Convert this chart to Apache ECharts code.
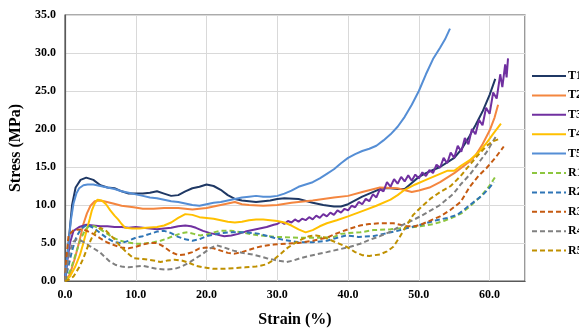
<!DOCTYPE html>
<html><head><meta charset="utf-8">
<script src="https://cdn.jsdelivr.net/npm/echarts@6/dist/echarts.min.js"></script>
<style>html,body{margin:0;padding:0;background:#fff}#c{width:579px;height:333px}</style>
</head><body><div id="c"></div>
<script>
// Strain (%) / Stress (MPa) pairs
const T1 = [[0,0],[0.5,5],[1,10],[1.5,12.3],[2.2,13.3],[3,13.6],[4,13.3],[5,12.6],[6,12.3],[7,12.2],[8,11.8],[9,11.5],[10,11.5],[11,11.5],[12,11.6],[13,11.8],[14,11.5],[15,11.2],[16,11.3],[17,11.8],[18,12.2],[19,12.4],[20,12.7],[21,12.5],[22,12.0],[23,11.3],[24,10.8],[25,10.6],[26,10.5],[27,10.4],[28,10.5],[29,10.6],[30,10.8],[31,10.9],[33,10.8],[35,10.3],[36.5,10.0],[38,9.8],[39,9.8],[40,10.1],[41,10.6],[42,11.1],[43,11.5],[44,11.9],[45,12.2],[46,12.2],[47,12.1],[48,12.1],[49,12.9],[50,13.7],[51,14.2],[52,14.6],[53,15.0],[54,15.6],[55,16.2],[56,17.3],[57,18.8],[58,20.5],[59,22.3],[60,24.5],[60.8,26.6]];
const T2 = [[0,0],[0.7,0.9],[1.4,3],[2.1,5.5],[2.6,7.5],[3.1,8.9],[3.6,9.9],[4.2,10.5],[4.8,10.6],[5.5,10.5],[6.8,10.2],[8,9.9],[9.7,9.7],[11,9.5],[12.5,9.5],[14,9.6],[16,9.6],[18,9.4],[20,9.6],[22,10.0],[24,10.4],[25,10.1],[26,10.0],[28,9.9],[30,10.0],[32,10.3],[35,10.6],[38,11.0],[40,11.2],[42,11.7],[44.5,12.3],[47,12.2],[49,11.7],[50,11.9],[51.5,12.3],[53,13.0],[55,14.2],[57,15.6],[58,16.5],[59,18.0],[60,19.8],[60.7,21.5],[61.2,23.2]];
const T3 = [[0,0],[0.3,2.5],[0.7,5],[1.2,6.6],[2,7.1],[3,7.4],[4,7.3],[5,7.2],[6,7.2],[7,7.1],[8,7.1],[9,7.0],[10,7.1],[11,7.0],[12,6.9],[13,6.8],[14,6.9],[15,7.0],[16,7.2],[17,7.3],[17.8,7.2],[18.5,7.0],[19.5,6.6],[20.5,6.3],[21.5,6.1],[22.5,5.9],[23.5,6.0],[24.5,6.2],[25.5,6.5],[26.5,6.7],[27.5,6.9],[28.5,7.1],[29.5,7.4],[30,7.5],[30.5,7.8],[31,7.5],[31.5,7.9],[32,7.7],[32.5,8.1],[33,7.8],[33.5,8.2],[34,8.0],[34.5,8.4],[35,8.1],[35.5,8.6],[36,8.3],[36.5,8.8],[37,8.5],[37.5,9.0],[38,8.7],[38.5,9.3],[39,9.0],[39.5,9.5],[40,9.3],[40.5,9.9],[41,9.7],[41.5,10.4],[42,10.1],[42.5,10.8],[43,10.5],[43.5,11.4],[44,11.0],[44.5,12.1],[45,11.8],[45.5,13.0],[46,12.4],[46.5,13.4],[47,12.8],[47.5,13.7],[48,13.1],[48.5,13.9],[49,13.2],[49.5,14.0],[50,13.5],[50.5,14.3],[51,13.8],[51.5,14.6],[52,14.2],[52.5,15.3],[53,14.9],[53.5,16.2],[54,15.5],[54.5,16.9],[55,16.2],[55.5,17.8],[56,17.0],[56.5,18.8],[57,18.0],[57.5,20.0],[58,19.3],[58.5,21.2],[59,20.5],[59.5,22.8],[60,22.0],[60.5,24.8],[61,24.0],[61.5,27.2],[61.8,25.5],[62.2,28.5],[62.4,26.8],[62.6,29.3]];
const T4 = [[0,0],[0.7,0.6],[1.4,1.8],[2.1,3.4],[2.6,5],[3.1,6.8],[3.5,8.2],[3.8,9.3],[4.2,10.2],[4.6,10.7],[5.2,10.6],[5.8,10.1],[6.4,9.3],[7,8.6],[7.5,8.1],[8,7.5],[8.5,7.0],[9.5,6.9],[10.5,6.9],[11.5,7.0],[13,7.1],[14,7.3],[15,7.7],[16,8.3],[17,8.8],[18,8.7],[19,8.4],[20,8.3],[21,8.2],[22,8.0],[23,7.8],[24,7.7],[25,7.8],[26,8.0],[27,8.1],[28,8.1],[29,8.0],[30,7.9],[31,7.7],[32,7.3],[33,6.8],[34,6.4],[35,6.7],[36,7.2],[37,7.6],[38.4,8.0],[40,8.5],[42,9.2],[44,9.9],[46,10.7],[47,11.3],[48,12.0],[49.5,12.7],[51,13.3],[52.5,13.9],[54,14.5],[55,14.5],[56,15.2],[57.2,15.9],[58.5,17.0],[59.6,18.2],[60.6,19.5],[61.6,20.7]];
const T5 = [[0,0],[0.2,2],[0.5,4.7],[0.8,7.8],[1.2,10.2],[1.6,11.5],[2,12.2],[2.6,12.6],[3.2,12.7],[4,12.7],[5,12.5],[6,12.3],[7,12.1],[8,11.8],[9,11.6],[10,11.4],[11,11.2],[12,11.0],[13,10.9],[14,10.7],[15,10.5],[16,10.4],[17,10.2],[18,10.0],[19,9.9],[20,10.1],[21,10.3],[22,10.4],[23,10.6],[24,10.8],[25,11.0],[26,11.1],[27,11.2],[28,11.1],[29,11.1],[30,11.2],[31,11.5],[32,11.9],[33,12.4],[34,12.7],[35,13.0],[36,13.5],[37,14.1],[38,14.7],[39,15.5],[40,16.2],[41,16.7],[42,17.1],[43,17.4],[44,17.8],[45,18.5],[46,19.3],[47,20.3],[48,21.6],[49,23.2],[50,25.0],[51,27.2],[52,29.2],[53,30.7],[53.7,31.8],[54.4,33.2]];
const R1 = [[0,0],[0.8,1.5],[1.5,3.5],[2.2,5.5],[2.9,6.8],[3.5,7.3],[4.2,7.2],[5,6.8],[6,6.2],[6.8,5.7],[7.8,5.3],[8.7,5.1],[10,4.9],[11,4.9],[12.5,5.1],[13.5,5.3],[14.5,5.6],[15.5,6.0],[16.5,6.3],[17.3,6.4],[18.2,6.2],[19.1,6.0],[20,6.1],[21,6.4],[22,6.6],[23.5,6.6],[24.7,6.45],[26,6.2],[27.5,6.0],[28.5,5.9],[30,5.8],[33,5.7],[36,5.7],[38,5.8],[39,6.2],[40,6.3],[41.7,6.4],[43.6,6.7],[46,6.8],[48.3,7.0],[50.2,7.2],[52.1,7.5],[53.5,7.9],[54.9,8.4],[56,8.9],[57.2,9.8],[58.6,11.0],[59.8,12.3],[60.8,13.7]];
const R2 = [[0,0],[0.5,2],[1,4],[1.6,5.8],[2.3,6.9],[3.1,7.4],[4,7.0],[5,6.3],[6,5.6],[7,5.1],[8,5.0],[9,5.3],[10,5.7],[11,5.9],[12,6.2],[13,6.5],[14,6.6],[15,6.3],[16,5.8],[17,5.5],[18,5.3],[19,5.5],[20,5.9],[21,6.1],[22,6.3],[23.5,6.4],[25.5,6.4],[27.5,6.2],[29.5,5.7],[31,5.4],[33,5.1],[35,5.1],[37,5.3],[38.5,5.7],[39.8,6.0],[41.5,5.8],[43.5,5.9],[45,6.2],[47,6.6],[48.5,7.0],[50.2,7.4],[52.5,8.0],[54,8.3],[55.4,8.7],[56.3,9.3],[57.2,10.0],[58.2,10.7],[59.1,11.4],[59.9,12.2],[60.6,13.0]];
const R3 = [[0,0],[0.2,3],[0.5,6.0],[1.2,6.7],[2.6,6.8],[4,6.2],[5,5.6],[5.9,5.1],[7,4.7],[8,4.4],[9,4.3],[10,4.5],[11,4.8],[12,5.0],[13,5.0],[14,4.5],[15,3.8],[16,3.4],[17,3.5],[18,3.8],[19,4.3],[20,4.4],[21,4.3],[22,4.0],[23,3.7],[24,3.6],[25,3.8],[26,4.1],[27,4.4],[28,4.6],[29.5,4.8],[31.3,4.9],[33,5.0],[35,5.3],[37,5.7],[38.5,6.3],[40,6.8],[41.7,7.3],[43,7.5],[44.5,7.6],[46.4,7.6],[48.3,7.2],[49.5,7.2],[50.5,7.5],[52,8.1],[53,8.5],[54.4,9.3],[55.9,10.4],[57.2,12.4],[58.4,13.8],[59.6,14.9],[60.8,16.2],[62.0,17.7]];
const R4 = [[0,0],[0.3,2],[0.7,4],[1.2,5.2],[1.7,5.5],[2.5,5.2],[3.5,4.6],[4.9,3.8],[5.7,3.1],[6.4,2.5],[7.2,2.1],[8,1.9],[9,1.8],[10,1.9],[11,2.0],[12,1.8],[13,1.6],[14.4,1.5],[15.5,1.6],[16.5,1.9],[17.5,2.4],[18.5,3.0],[19.5,3.6],[20.5,4.3],[21.4,4.7],[22.5,4.4],[23.8,4.0],[25,3.7],[26.5,3.5],[28.5,3.0],[30,2.7],[31.3,2.5],[32.3,2.7],[33.2,3.0],[35,3.4],[37,3.8],[38.9,4.2],[40.3,4.5],[41.7,4.9],[43,5.4],[44.5,5.9],[46,6.5],[47.3,7.2],[48.7,7.8],[50.2,8.5],[51.5,9.2],[53,10.0],[54.9,11.5],[56,12.8],[57.2,14.0],[58.5,15.6],[59.6,17.0],[61.0,19.2]];
const R5 = [[0,0],[0.6,0.2],[1.2,0.6],[2,1.8],[2.6,3.0],[3.2,4.5],[3.8,5.7],[4.4,6.6],[5,7.0],[5.8,6.6],[6.9,5.6],[7.8,4.6],[8.8,3.7],[9.7,3.0],[11,2.9],[12.5,2.7],[13.5,2.5],[14.5,2.7],[15.5,2.8],[16.5,2.7],[17.5,2.4],[18.5,2.0],[19.5,1.8],[21,1.6],[22.5,1.6],[24,1.7],[25.5,1.8],[27,1.9],[28.5,2.2],[29.5,2.8],[30.5,3.6],[31.5,4.4],[32.5,5.0],[33.5,5.5],[34.5,5.9],[35.5,6.0],[36.5,5.8],[37.5,5.4],[38.5,5.0],[39.8,4.5],[41,3.8],[42,3.4],[43,3.3],[44.5,3.5],[45.5,3.9],[46.4,4.5],[47.3,5.8],[48.3,7.4],[49.2,8.7],[50.2,9.6],[51.6,10.8],[53,11.7],[54.5,12.5],[55.9,13.8],[57.2,15.3],[58.5,16.7],[59.6,17.8],[60.5,18.4],[61.4,18.7]];

const seriesNames = ['T1','T2','T3','T4','T5','R1','R2','R3','R4','R5'];
const seriesData = [T1,T2,T3,T4,T5,R1,R2,R3,R4,R5];
const colors = ['#1F3864','#F4863F','#7030A0','#FFC000','#558ED5','#8DC63F','#2E75B6','#C55A11','#808080','#BF9000'];
const xTitle = 'Strain (%)';
const yTitle = 'Stress (MPa)';

const FONT = '"Liberation Serif","Times New Roman",serif';
const chart = echarts.init(document.getElementById('c'));
chart.setOption({
  animation: false,
  color: colors,
  grid: {left: 65, top: 15, right: 54, bottom: 43, show: true, borderColor: '#595959', borderWidth: 1.2, containLabel: false},
  legend: {
    orient: 'vertical', left: 526, top: 65, itemWidth: 34, itemHeight: 12, itemGap: 7.4,
    itemStyle: {opacity: 0},
    textStyle: {fontFamily: FONT, fontWeight: 'bold', fontSize: 12, color: '#000', padding: [0, 0, 0, -3]},
    data: seriesNames
  },
  xAxis: {
    type: 'value', min: 0, max: 65, interval: 10,
    name: xTitle, nameLocation: 'middle', nameGap: 31,
    nameTextStyle: {fontFamily: FONT, fontWeight: 'bold', fontSize: 16, color: '#000'},
    axisLine: {show: true, lineStyle: {color: '#595959', width: 1.2}},
    axisTick: {show: false},
    axisLabel: {fontFamily: FONT, fontWeight: 'bold', fontSize: 12, color: '#000', margin: 8, showMaxLabel: false,
      formatter: v => v.toFixed(1)},
    splitLine: {show: true, lineStyle: {color: '#D9D9D9', width: 1}}
  },
  yAxis: {
    type: 'value', min: 0, max: 35, interval: 5,
    name: yTitle, nameLocation: 'middle', nameGap: 37,
    nameTextStyle: {fontFamily: FONT, fontWeight: 'bold', fontSize: 16, color: '#000'},
    axisLine: {show: true, lineStyle: {color: '#595959', width: 1.2}},
    axisTick: {show: false},
    axisLabel: {fontFamily: FONT, fontWeight: 'bold', fontSize: 12, color: '#000', margin: 9,
      formatter: v => v.toFixed(1)},
    splitLine: {show: true, lineStyle: {color: '#D9D9D9', width: 1}}
  },
  series: seriesNames.map((n, i) => ({
    name: n, type: 'line', data: seriesData[i], showSymbol: false, symbol: 'none',
    lineStyle: {width: 2, color: colors[i], type: i >= 5 ? [5, 3] : 'solid'},
    itemStyle: {color: colors[i]},
    smooth: false
  }))
});
</script></body></html>
